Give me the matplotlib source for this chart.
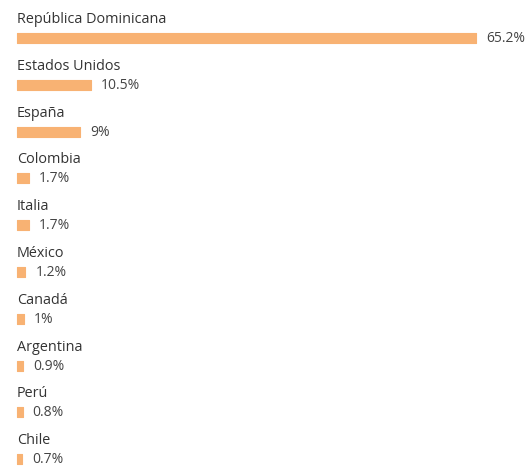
import numpy as np
import matplotlib
matplotlib.use("Agg")
import matplotlib.pyplot as plt

countries = ["República Dominicana", "Estados Unidos", "España", "Colombia", "Italia",
             "México", "Canadá", "Argentina", "Perú", "Chile"]
shares = [65.2, 10.5, 9, 1.7, 1.7, 1.2, 1, 0.9, 0.8, 0.7]

W, H = 527, 469
px_per_pct = 459 / 65.2   # bar scale
row = 46.8                # row pitch in px
top = 38                  # first bar centre, px from top

fig = plt.figure(figsize=(W / 100, H / 100), dpi=100)
ax = fig.add_axes([0, 0, 1, 1])
ax.set_xlim(-17 / px_per_pct, (W - 17) / px_per_pct)
ax.set_ylim((H - top) / row, -top / row)
ax.axis("off")

y = np.arange(len(countries))
ax.barh(y, shares, height=10 / row, color="#f8b273", edgecolor="#f8b273",
        linewidth=0.8, joinstyle="round")

for yi, name, v in zip(y, countries, shares):
    # country name above the bar
    ax.text(0, yi - 15 / row, name, va="baseline", ha="left",
            fontsize=10.4, color="#333333", family="Open Sans")
    # value right of the bar
    ax.text(v + 10 / px_per_pct, yi + 0.5 / row, f"{v:g}%", va="center", ha="left",
            fontsize=10, color="#444444", family="Open Sans")

fig.savefig("out.png", dpi=100)
